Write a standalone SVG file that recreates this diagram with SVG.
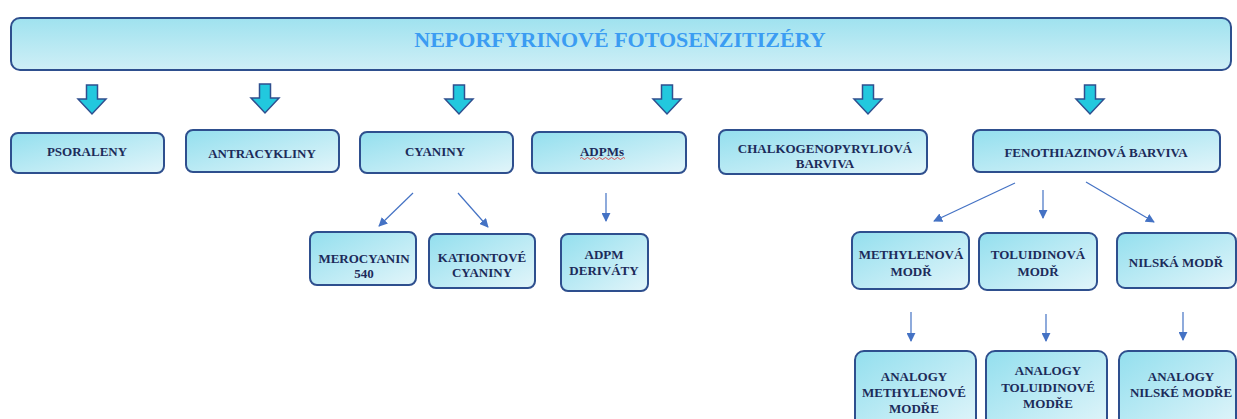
<svg xmlns="http://www.w3.org/2000/svg" width="1237" height="419" viewBox="0 0 1237 419">
<defs>
<linearGradient id="g" x1="0" y1="0" x2="1" y2="1">
<stop offset="0" stop-color="#93DFEE"/>
<stop offset="1" stop-color="#E2F5FA"/>
</linearGradient>
<linearGradient id="gt" x1="0" y1="0" x2="0" y2="1">
<stop offset="0" stop-color="#9FE2EF"/>
<stop offset="1" stop-color="#CFEFF6"/>
</linearGradient>
<marker id="ah" viewBox="0 0 10 10" refX="9" refY="5" markerWidth="9" markerHeight="9" markerUnits="userSpaceOnUse" orient="auto">
<path d="M0,0 L10,5 L0,10 z" fill="#4472C4"/>
</marker>
</defs>
<style>
.box{fill:url(#g);stroke:#2E4F8E;stroke-width:2}
.t{font-family:"Liberation Serif","Times New Roman",serif;font-weight:bold;font-size:13px;fill:#1C2B5A;text-anchor:middle}
.title{font-family:"Liberation Serif","Times New Roman",serif;font-weight:bold;font-size:22px;fill:#3B9CF2;text-anchor:middle}
.blk{fill:#22C8DE;stroke:#2F4F8F;stroke-width:1.5;stroke-linejoin:miter}
.ln{stroke:#4472C4;stroke-width:1.2;fill:none;marker-end:url(#ah)}
</style>

<g id="title">
<rect x="11" y="18" width="1220" height="52" rx="9" fill="url(#gt)" stroke="#2E4F8E" stroke-width="2"/>
<text class="title" x="620" y="47">NEPORFYRINOVÉ FOTOSENZITIZÉRY</text>
</g>

<g id="connectors">
<path class="blk" d="M86.5,85 H97.5 V99 H106 L92,114 L78,99 H86.5 Z"/>
<path class="blk" d="M259.5,84 H270.5 V98 H279 L265,113 L251,98 H259.5 Z"/>
<path class="blk" d="M453.5,85 H464.5 V99 H473 L459,114 L445,99 H453.5 Z"/>
<path class="blk" d="M661.5,85 H672.5 V99 H681 L667,114 L653,99 H661.5 Z"/>
<path class="blk" d="M862.5,85 H873.5 V99 H882 L868,114 L854,99 H862.5 Z"/>
<path class="blk" d="M1084.5,85 H1095.5 V99 H1104 L1090,114 L1076,99 H1084.5 Z"/>
<line class="ln" x1="413" y1="193" x2="379" y2="226"/>
<line class="ln" x1="458" y1="193" x2="488" y2="227"/>
<line class="ln" x1="606" y1="193" x2="606" y2="221"/>
<line class="ln" x1="1015" y1="183" x2="934" y2="221"/>
<line class="ln" x1="1043" y1="190" x2="1043" y2="218"/>
<line class="ln" x1="1086" y1="182" x2="1154" y2="222"/>
<line class="ln" x1="911" y1="312" x2="911" y2="341"/>
<line class="ln" x1="1046" y1="314" x2="1046" y2="341"/>
<line class="ln" x1="1183" y1="312" x2="1183" y2="340"/>
</g>

<g id="psoraleny">
<rect class="box" x="11" y="133" width="153" height="40" rx="7"/>
<text class="t" x="87" y="156">PSORALENY</text>
</g>
<g id="antracykliny">
<rect class="box" x="186" y="130" width="153" height="42" rx="7"/>
<text class="t" x="262" y="158">ANTRACYKLINY</text>
</g>
<g id="cyaniny">
<rect class="box" x="360" y="132" width="153" height="41" rx="7"/>
<text class="t" x="435" y="156">CYANINY</text>
</g>
<g id="adpms">
<rect class="box" x="532" y="132" width="154" height="41" rx="7"/>
<text class="t" x="602" y="156">ADPMs</text>
<path d="M580,158.5 q1.5,-2 3,0 t3,0 t3,0 t3,0 t3,0 t3,0 t3,0 t3,0 t3,0 t3,0 t3,0 t3,0 t3,0 t3,0 t3,0" fill="none" stroke="#E03030" stroke-width="0.8"/>
</g>
<g id="chalkogenopyryliova">
<rect class="box" x="719" y="130" width="208" height="44" rx="7"/>
<text class="t" x="825" y="153">CHALKOGENOPYRYLIOVÁ</text>
<text class="t" x="825" y="168">BARVIVA</text>
</g>
<g id="fenothiazinova">
<rect class="box" x="973" y="130" width="247" height="42" rx="7"/>
<text class="t" x="1096" y="157">FENOTHIAZINOVÁ BARVIVA</text>
</g>

<g id="merocyanin">
<rect class="box" x="310" y="232" width="106" height="53" rx="7"/>
<text class="t" x="364" y="263">MEROCYANIN</text>
<text class="t" x="364" y="278">540</text>
</g>
<g id="kationtove">
<rect class="box" x="429" y="234" width="106" height="54" rx="7"/>
<text class="t" x="482" y="262">KATIONTOVÉ</text>
<text class="t" x="482" y="277">CYANINY</text>
</g>
<g id="adpm-derivaty">
<rect class="box" x="561" y="234" width="87" height="57" rx="7"/>
<text class="t" x="604" y="259">ADPM</text>
<text class="t" x="604" y="275">DERIVÁTY</text>
</g>
<g id="methylenova">
<rect class="box" x="852" y="232" width="117" height="57" rx="8"/>
<text class="t" x="911" y="259">METHYLENOVÁ</text>
<text class="t" x="911" y="276">MODŘ</text>
</g>
<g id="toluidinova">
<rect class="box" x="979" y="233" width="118" height="57" rx="8"/>
<text class="t" x="1038" y="259">TOLUIDINOVÁ</text>
<text class="t" x="1038" y="276">MODŘ</text>
</g>
<g id="nilska">
<rect class="box" x="1117" y="233" width="119" height="55" rx="8"/>
<text class="t" x="1176" y="267">NILSKÁ MODŘ</text>
</g>

<g id="analogy-methylenove">
<rect class="box" x="855" y="351" width="121" height="80" rx="9"/>
<text class="t" x="914" y="381">ANALOGY</text>
<text class="t" x="914" y="397">METHYLENOVÉ</text>
<text class="t" x="914" y="413">MODŘE</text>
</g>
<g id="analogy-toluidinove">
<rect class="box" x="986" y="351" width="121" height="80" rx="9"/>
<text class="t" x="1048" y="375">ANALOGY</text>
<text class="t" x="1048" y="392">TOLUIDINOVÉ</text>
<text class="t" x="1048" y="408">MODŘE</text>
</g>
<g id="analogy-nilske">
<rect class="box" x="1119" y="351" width="117" height="80" rx="9"/>
<text class="t" x="1181" y="381">ANALOGY</text>
<text class="t" x="1181" y="397">NILSKÉ MODŘE</text>
</g>
</svg>
